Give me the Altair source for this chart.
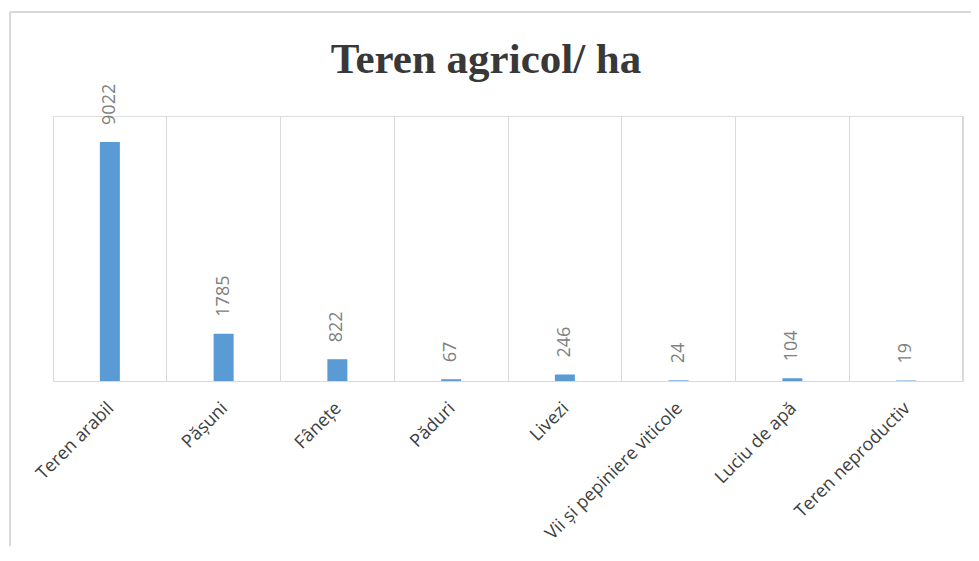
import altair as alt
import pandas as pd

categories = ["Teren arabil", "Pășuni", "Fânețe", "Păduri", "Livezi",
              "Vii și pepiniere viticole", "Luciu de apă", "Teren neproductiv"]
values = [9022, 1785, 822, 67, 246, 24, 104, 19]

df = pd.DataFrame({"cat": categories, "val": values})

W, H = 910, 265
GRID = "#d9d9d9"

x = alt.X("cat:N", sort=None, title=None,
          scale=alt.Scale(paddingInner=0, paddingOuter=0),
          axis=alt.Axis(labelAngle=-45, labelAlign="right", labelBaseline="top",
                        labelFont="Open Sans", labelFontSize=18, labelColor="#404040",
                        labelPadding=18, labelOffset=-5, ticks=False, domainColor=GRID,
                        grid=True, gridColor=GRID, bandPosition=0,
                        labelOverlap=False, labelLimit=400))
y = alt.Y("val:Q", scale=alt.Scale(domain=[0, 10000]), axis=None)

bars = alt.Chart(df).mark_bar(size=20, color="#5B9BD5").encode(x=x, y=y)
labels = alt.Chart(df).mark_text(angle=270, align="left", baseline="middle", dx=17,
                                 font="Open Sans", fontSize=18, color="#808080").encode(
    x=x, y=y, text=alt.Text("val:Q", format="d"))

right_grid = alt.Chart(df).mark_rule(color=GRID).encode(
    x=alt.value(W), y=alt.value(0), y2=alt.value(H))
frame_left = alt.Chart(df).mark_rule(color=GRID, strokeWidth=2).encode(
    x=alt.value(-43), y=alt.value(-104), y2=alt.value(H + 400))
frame_top = alt.Chart(df).mark_rule(color=GRID, strokeWidth=2).encode(
    x=alt.value(-43), x2=alt.value(W + 200), y=alt.value(-104))

chart = alt.layer(frame_left, frame_top, right_grid, bars, labels).properties(
    width=W, height=H,
    title=alt.TitleParams("Teren agricol/ ha", font="Liberation Serif", fontSize=43,
                          fontWeight="bold", color="#383838", anchor="middle",
                          dx=-22, dy=106, offset=35),
    autosize=alt.AutoSizeParams(type="none"),
    padding={"left": 45, "top": 108, "right": 8, "bottom": 165},
).configure_view(stroke=None).configure(background="white")

chart.save("out.html", embed_options={"renderer": "svg", "actions": False})
